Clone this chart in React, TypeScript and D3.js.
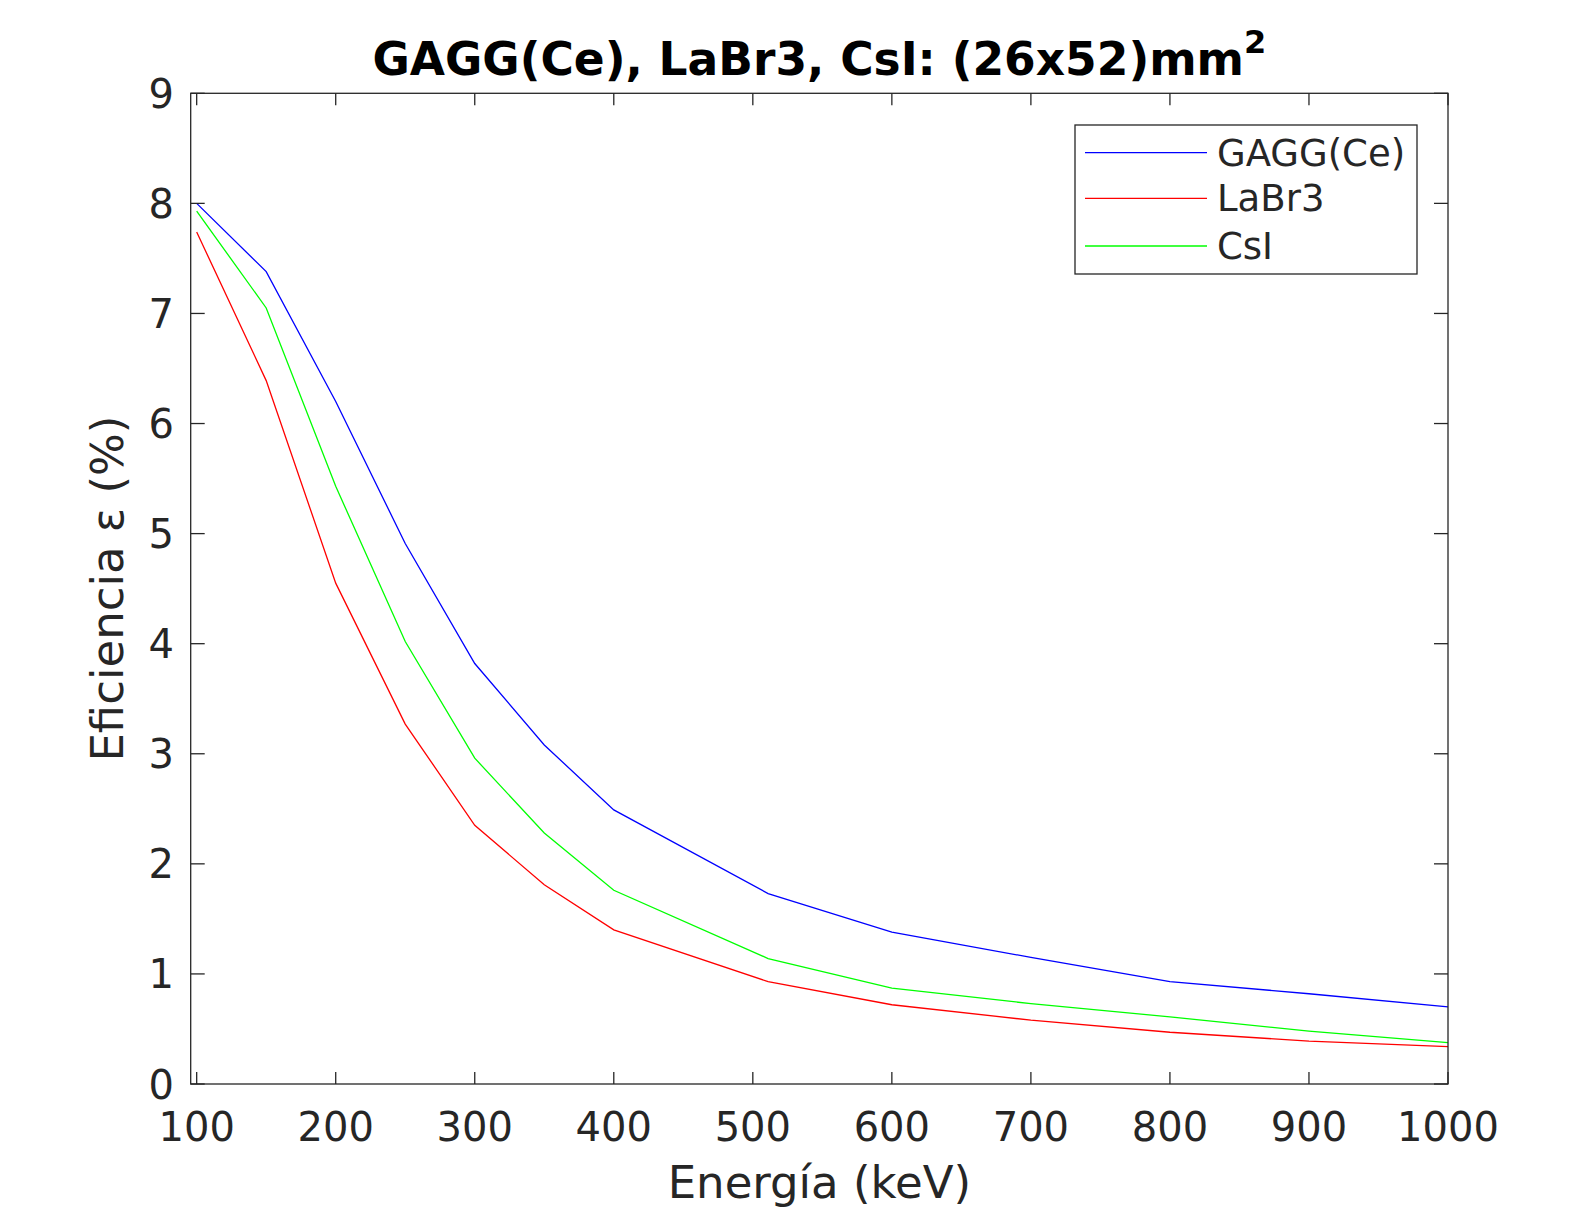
import React from "react";
import * as d3 from "d3";

const energies = [100, 150, 200, 250, 300, 350, 400, 511, 600, 700, 800, 900, 1000];
const gagg = [8.0, 7.38, 6.2, 4.91, 3.82, 3.08, 2.49, 1.73, 1.38, 1.15, 0.93, 0.82, 0.7];
const labr3 = [7.74, 6.39, 4.55, 3.27, 2.35, 1.81, 1.4, 0.93, 0.72, 0.58, 0.47, 0.39, 0.34];
const csi = [7.93, 7.05, 5.43, 4.02, 2.96, 2.28, 1.76, 1.14, 0.87, 0.73, 0.61, 0.48, 0.375];
const seriesNames = ["GAGG(Ce)", "LaBr3", "CsI"];
const seriesColors = ["#0000ff", "#ff0000", "#00ff00"];
const xTicks = [100, 200, 300, 400, 500, 600, 700, 800, 900, 1000];
const yTicks = [0, 1, 2, 3, 4, 5, 6, 7, 8, 9];

const W = 1584;
const H = 1213;
const L = 190.7, R = 1448, T = 93.3, B = 1084;
const AX = "#262626";
const FONT = "DejaVu Sans, sans-serif";

export default function App() {
  const x = d3.scaleLinear().domain([95.7, 1000]).range([L, R]);
  const y = d3.scaleLinear().domain([0, 9]).range([B, T]);
  const line = d3
    .line<[number, number]>()
    .x((d) => x(d[0]))
    .y((d) => y(d[1]));
  const all = [gagg, labr3, csi];
  const legX = 1075, legY = 125, legW = 342, legH = 149;
  const legRows = [152.7, 198.3, 246];
  return (
    <svg
      width={W}
      height={H}
      style={{ position: "absolute", left: 0, top: 0, background: "#fff" }}
      fontFamily={FONT}
    >
      <rect x={0} y={0} width={W} height={H} fill="#fff" />
      {all.map((vals, i) => (
        <path
          key={i}
          d={line(energies.map((e, j) => [e, vals[j]]) as [number, number][]) || ""}
          fill="none"
          stroke={seriesColors[i]}
          strokeWidth={1.3}
        />
      ))}
      <rect x={L} y={T} width={R - L} height={B - T} fill="none" stroke={AX} strokeWidth={1.3} />
      {xTicks.map((t) => (
        <g key={"x" + t}>
          <line x1={x(t)} x2={x(t)} y1={B} y2={B - 12} stroke={AX} strokeWidth={1.3} />
          <line x1={x(t)} x2={x(t)} y1={T} y2={T + 12} stroke={AX} strokeWidth={1.3} />
          <text x={x(t)} y={1141} textAnchor="middle" fontSize={40} fill={AX}>
            {t}
          </text>
        </g>
      ))}
      {yTicks.map((t) => (
        <g key={"y" + t}>
          <line x1={L} x2={L + 14} y1={y(t)} y2={y(t)} stroke={AX} strokeWidth={1.3} />
          <line x1={R} x2={R - 14} y1={y(t)} y2={y(t)} stroke={AX} strokeWidth={1.3} />
          <text x={174} y={y(t) + 14.5} textAnchor="end" fontSize={40} fill={AX}>
            {t}
          </text>
        </g>
      ))}
      <text x={(L + R) / 2} y={75} textAnchor="middle" fontSize={45.5} fontWeight="bold" fill="#000">
        GAGG(Ce), LaBr3, CsI: (26x52)mm
        <tspan fontSize={32} dy={-22}>2</tspan>
      </text>
      <text x={(L + R) / 2} y={1198} textAnchor="middle" fontSize={45} fill={AX}>
        Energía (keV)
      </text>
      <text
        transform={`translate(123, ${(T + B) / 2}) rotate(-90)`}
        textAnchor="middle"
        fontSize={45}
        fill={AX}
      >
        Eficiencia ε (%)
      </text>
      <rect x={legX} y={legY} width={legW} height={legH} fill="#fff" stroke={AX} strokeWidth={1.3} />
      {seriesNames.map((n, i) => (
        <g key={n}>
          <line x1={1085} x2={1207} y1={legRows[i]} y2={legRows[i]} stroke={seriesColors[i]} strokeWidth={1.3} />
          <text x={1217} y={legRows[i] + 13} fontSize={37} fill={AX}>
            {n}
          </text>
        </g>
      ))}
    </svg>
  );
}
